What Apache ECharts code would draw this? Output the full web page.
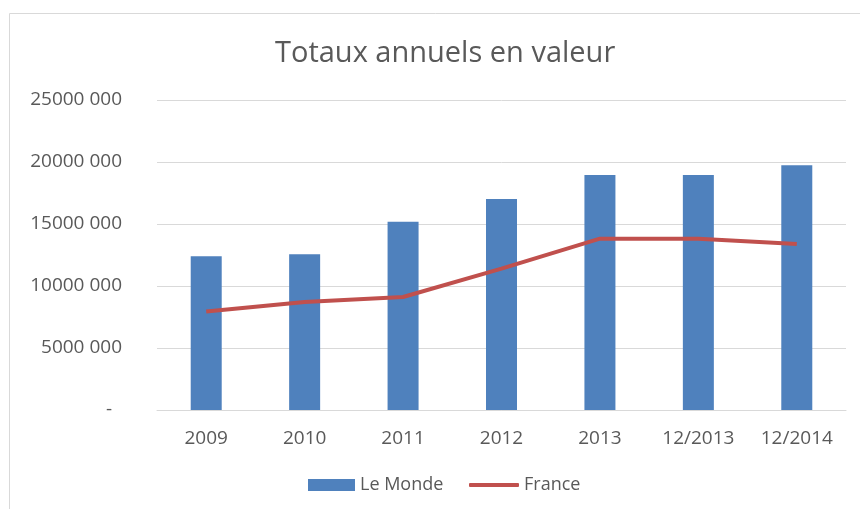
<!DOCTYPE html>
<html>
<head>
<meta charset="utf-8">
<script src="https://cdn.jsdelivr.net/npm/echarts@6/dist/echarts.min.js"></script>
<style>
  html, body { margin: 0; padding: 0; background: #fff; }
  #chart { width: 860px; height: 509px; }
</style>
</head>
<body>
<div id="chart"></div>
<script>
const categories = ['2009', '2010', '2011', '2012', '2013', '12/2013', '12/2014'];
const leMonde = [12400000, 12560000, 15190000, 17020000, 18950000, 18950000, 19730000];
const france = [7940000, 8710000, 9110000, 11400000, 13820000, 13820000, 13390000];
const yTickLabels = ['-  ', '5000 000', '10000 000', '15000 000', '20000 000', '25000 000'];

const chart = echarts.init(document.getElementById('chart'));
const textColor = '#595959';
const fontFamily = '"Open Sans", sans-serif';

chart.setOption({
    animation: false,
    textStyle: { fontFamily: fontFamily },
    title: {
        text: 'Totaux annuels en valeur',
        left: 270,
        top: 34,
        textStyle: { color: textColor, fontSize: 29, fontWeight: 'normal', fontFamily: fontFamily }
    },
    graphic: [{
        type: 'rect',
        shape: { x: 9.5, y: 13.5, width: 900, height: 600 },
        style: { fill: 'none', stroke: '#d9d9d9', lineWidth: 1 },
        silent: true
    }],
    grid: { left: 157, right: 14, top: 100, bottom: 99 },
    legend: [
        {
            left: 303,
            top: 471,
            itemWidth: 47,
            itemHeight: 12,
            textStyle: { color: textColor, fontSize: 18, fontFamily: fontFamily },
            data: [{ name: 'Le Monde', icon: 'rect' }]
        },
        {
            left: 464,
            top: 471,
            itemWidth: 50,
            itemHeight: 4,
            textStyle: { color: textColor, fontSize: 18, fontFamily: fontFamily },
            data: [{ name: 'France', icon: 'roundRect' }]
        }
    ],
    xAxis: {
        type: 'category',
        data: categories,
        axisTick: { show: false },
        axisLine: { lineStyle: { color: '#d9d9d9' } },
        axisLabel: { color: textColor, fontSize: 19, margin: 19 }
    },
    yAxis: {
        type: 'value',
        min: 0,
        max: 25000000,
        interval: 5000000,
        axisLine: { show: false },
        axisTick: { show: false },
        splitLine: { lineStyle: { color: '#d9d9d9' } },
        axisLabel: {
            color: textColor,
            fontSize: 19,
            margin: 35,
            formatter: (value, index) => yTickLabels[index]
        }
    },
    series: [
        {
            name: 'Le Monde',
            type: 'bar',
            data: leMonde,
            barWidth: 31,
            itemStyle: { color: '#4f81bd' }
        },
        {
            name: 'France',
            type: 'line',
            data: france,
            symbol: 'none',
            lineStyle: { color: '#c0504d', width: 4 },
            itemStyle: { color: '#c0504d' }
        }
    ]
});
</script>
</body>
</html>
